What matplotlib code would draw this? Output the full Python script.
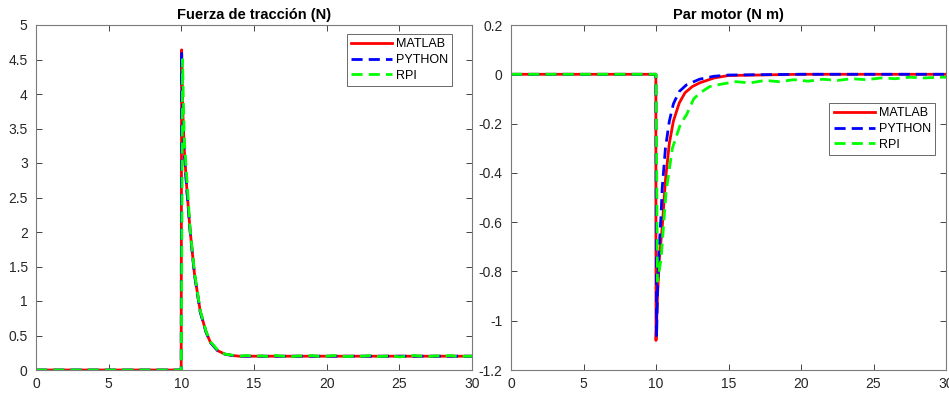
import numpy as np
import matplotlib
matplotlib.use('Agg')
import matplotlib.pyplot as plt
from matplotlib.ticker import FuncFormatter

plt.rcParams['font.family'] = ['Liberation Sans', 'DejaVu Sans']
plt.rcParams['axes.unicode_minus'] = False

# ---------------- data ----------------
series_names = ['MATLAB', 'PYTHON', 'RPI']

# Fuerza de tracción (N)
t_force_ml = [0, 9.99, 10.02, 10.1, 10.2, 10.37, 10.6, 10.9, 11.3, 11.7, 12.0, 12.5, 13.0, 13.5, 14.0, 15.0, 20.0, 30.0]
f_matlab   = [0, 0, 4.64, 3.75, 3.2, 2.65, 2.03, 1.40, 0.85, 0.55, 0.40, 0.28, 0.23, 0.21, 0.20, 0.20, 0.20, 0.20]
f_python   = [0, 0, 4.62, 3.72, 3.18, 2.63, 2.02, 1.39, 0.84, 0.55, 0.40, 0.28, 0.23, 0.21, 0.20, 0.20, 0.20, 0.20]

t_force_rpi = [0, 10.0, 10.08, 10.2, 10.4, 10.6, 10.9, 11.3, 11.7, 12.0, 12.5, 13.0, 13.5, 14.0,
               14.5, 15.0, 15.5, 16.0, 16.5, 17.0, 17.5, 18.0, 18.5, 19.0, 19.5, 20.0, 20.5, 21.0,
               21.5, 22.0, 22.5, 23.0, 23.5, 24.0, 24.5, 25.0, 25.5, 26.0, 26.5, 27.0, 27.5, 28.0,
               28.5, 29.0, 29.5, 30.0]
f_rpi       = [0, 0, 4.50, 3.35, 2.70, 2.05, 1.42, 0.86, 0.56, 0.41, 0.29, 0.23, 0.215, 0.20,
               0.21, 0.20, 0.205, 0.195, 0.21, 0.20, 0.19, 0.205, 0.20, 0.21, 0.195, 0.20, 0.21, 0.20,
               0.195, 0.205, 0.20, 0.21, 0.195, 0.20, 0.205, 0.19, 0.20, 0.21, 0.20, 0.195, 0.205, 0.20,
               0.21, 0.195, 0.20, 0.20]

# Par motor (N m)
t_tq_ml   = [0, 9.99, 10.0, 10.11, 10.23, 10.43, 10.65, 10.92, 11.2, 11.6, 12.0, 12.5, 13.0, 14.0, 15.0, 20.0, 30.0]
tq_matlab = [0, 0, -1.08, -0.89, -0.75, -0.62, -0.43, -0.28, -0.19, -0.117, -0.075, -0.05, -0.035, -0.015, -0.005, 0, 0]

t_tq_py   = [0, 9.99, 10.04, 10.1, 10.2, 10.34, 10.43, 10.65, 10.92, 11.2, 11.6, 12.1, 13.0, 14.0, 15.0, 20.0, 30.0]
tq_python = [0, 0, -1.065, -0.89, -0.72, -0.58, -0.46, -0.30, -0.19, -0.12, -0.07, -0.043, -0.02, -0.008, -0.003, 0, 0]

t_tq_rpi = [0, 10.0, 10.1, 10.35, 10.69, 11.13, 11.7, 12.1, 12.6, 13.0, 13.7, 14.5, 15.5, 16.5, 17.5,
            18.5, 19.5, 20.5, 21.5, 22.5, 23.5, 24.5, 25.5, 26.5, 27.5, 28.5, 29.5, 30.0]
tq_rpi   = [0, 0, -0.84, -0.75, -0.48, -0.30, -0.20, -0.165, -0.10, -0.077, -0.05, -0.04, -0.03, -0.035,
            -0.025, -0.03, -0.022, -0.028, -0.02, -0.025, -0.018, -0.022, -0.015, -0.018, -0.012, -0.015, -0.012, -0.012]

x_ticks = np.arange(0, 31, 5)
force_ticks = np.arange(0, 5.01, 0.5)
torque_ticks = np.arange(-1.2, 0.21, 0.2)

# ---------------- figure ----------------
fig = plt.figure(figsize=(9.49, 3.93), dpi=100)
ax1 = fig.add_axes([36/949, 23/393, 436/949, 345/393])
ax2 = fig.add_axes([511/949, 23/393, 435/949, 345/393])

def fmt(v, pos):
    s = ('%.1f' % v).rstrip('0').rstrip('.')
    return '0' if s in ('-0', '') else s

def style(ax):
    ax.tick_params(direction='in', top=True, right=True, length=4, width=0.6,
                   colors='#262626', labelsize=10, pad=6)
    ax.tick_params(axis='x', pad=5)
    for sp in ax.spines.values():
        sp.set_color('#7a7a7a')
        sp.set_linewidth(0.8)
    ax.yaxis.set_major_formatter(FuncFormatter(fmt))
    ax.xaxis.set_major_formatter(FuncFormatter(fmt))

dash = (4, 2.2)
leg_kw = dict(loc='upper right', fontsize=9, frameon=True, fancybox=False, edgecolor='#262626',
              handlelength=3.3, handletextpad=0.3, borderpad=0.35, labelspacing=0.3, borderaxespad=0)

ax1.plot(t_force_ml, f_matlab, color='#ff0000', lw=2.0, label=series_names[0])
ax1.plot(t_force_ml, f_python, color='#0000ff', lw=2.0, ls=(0, dash), label=series_names[1])
ax1.plot(t_force_rpi, f_rpi, color='#00ff00', lw=2.0, ls=(0, dash), label=series_names[2])
ax1.set_xlim(0, 30)
ax1.set_ylim(0, 5)
ax1.set_xticks(x_ticks)
ax1.set_yticks(force_ticks)
ax1.set_title('Fuerza de tracción (N)', fontsize=10.5, fontweight='bold', color='#000000', pad=4)
style(ax1)
leg1 = ax1.legend(bbox_to_anchor=(0.955, 0.974), **leg_kw)
leg1.get_frame().set_linewidth(0.6)

ax2.plot(t_tq_ml, tq_matlab, color='#ff0000', lw=2.0, label=series_names[0])
ax2.plot(t_tq_py, tq_python, color='#0000ff', lw=2.0, ls=(0, dash), label=series_names[1])
ax2.plot(t_tq_rpi, tq_rpi, color='#00ff00', lw=2.0, ls=(0, dash), label=series_names[2])
ax2.set_xlim(0, 30)
ax2.set_ylim(-1.2, 0.2)
ax2.set_xticks(x_ticks)
ax2.set_yticks(torque_ticks)
ax2.set_title('Par motor (N m)', fontsize=10.5, fontweight='bold', color='#000000', pad=4)
style(ax2)
leg2 = ax2.legend(bbox_to_anchor=(0.975, 0.774), **leg_kw)
leg2.get_frame().set_linewidth(0.6)

fig.savefig('out.png', dpi=100)
